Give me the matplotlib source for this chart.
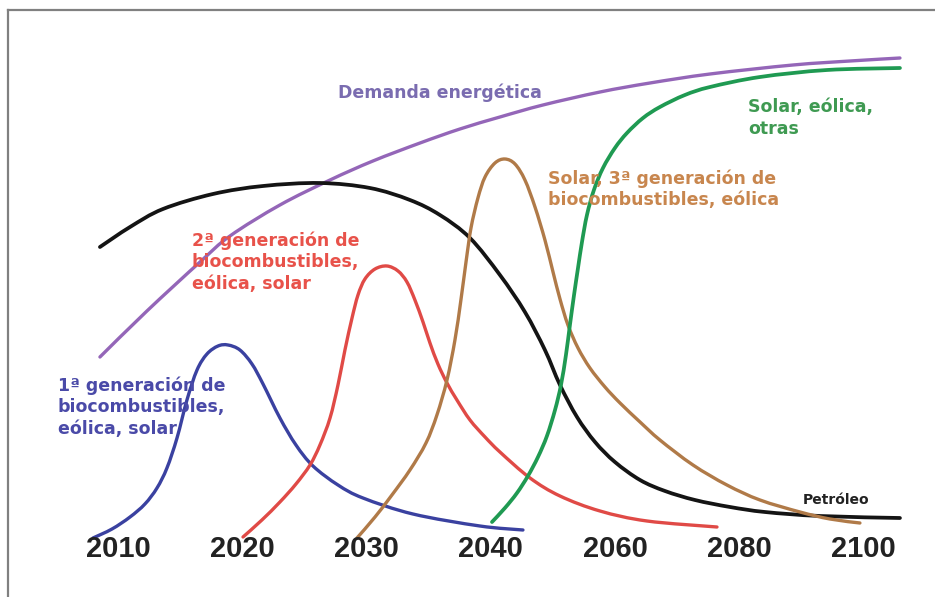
import numpy as np
import matplotlib.pyplot as plt
from matplotlib.lines import Line2D
from matplotlib.path import Path
from matplotlib.patches import PathPatch

# eje x: posiciones equiespaciadas (0 = 2010 ... 6 = 2100), eje y: cuota relativa 0-100
years = ["2010", "2020", "2030", "2040", "2060", "2080", "2100"]

demanda_x = [-0.145, 0.233, 0.660, 0.901, 1.303, 1.706, 2.051, 2.430, 2.751, 3.073, 3.419, 3.878,
             4.280, 4.763, 5.430, 5.889, 6.291]
demanda_y = [36.6, 45.8, 55.6, 60.8, 67.0, 72.0, 75.8, 79.4, 82.2, 84.6, 87.0, 89.6,
             91.4, 93.2, 95.0, 95.8, 96.4]

petroleo_x = [-0.145, 0.097, 0.362, 0.764, 1.167, 1.625, 2.027, 2.349, 2.590, 2.832, 3.073, 3.274,
              3.435, 3.556, 3.693, 3.838, 3.998, 4.200, 4.401, 4.642, 4.924, 5.205, 5.648, 6.291]
petroleo_y = [58.6, 62.6, 66.2, 69.2, 70.8, 71.4, 70.4, 68.0, 65.0, 60.4, 53.0, 45.6,
              38.0, 31.0, 24.6, 19.6, 15.6, 12.0, 9.8, 8.0, 6.6, 5.6, 4.8, 4.4]

gen1_x = [-0.201, -0.048, 0.097, 0.217, 0.314, 0.394, 0.475, 0.555, 0.636, 0.716, 0.805, 0.885,
          0.981, 1.078, 1.167, 1.303, 1.432, 1.569, 1.770, 1.971, 2.373, 2.912, 3.258]
gen1_y = [0.4, 2.2, 4.6, 7.2, 10.4, 14.4, 20.4, 28.0, 34.0, 37.2, 38.8, 39.0,
          38.0, 35.2, 31.2, 24.4, 19.0, 14.8, 11.0, 8.4, 5.2, 2.8, 2.0]

gen2_x = [1.006, 1.158, 1.303, 1.432, 1.545, 1.625, 1.706, 1.770, 1.826, 1.883, 1.931, 1.987, 2.068,
          2.164, 2.253, 2.325, 2.389, 2.454, 2.510, 2.574, 2.647, 2.727, 2.832, 2.953, 3.073, 3.315,
          3.556, 3.878, 4.256, 4.819]
gen2_y = [0.6, 4.0, 7.6, 11.2, 15.0, 19.0, 24.4, 31.0, 38.0, 44.4, 49.0, 52.2, 54.2,
          54.8, 53.8, 51.6, 48.0, 43.6, 39.4, 35.2, 31.4, 28.0, 24.0, 20.6, 17.6, 12.4,
          8.8, 5.8, 3.8, 2.6]

gen3_x = [1.923, 2.068, 2.204, 2.349, 2.478, 2.566, 2.647, 2.711, 2.759, 2.800, 2.840, 2.896, 2.953,
          3.033, 3.113, 3.194, 3.274, 3.355, 3.435, 3.500, 3.556, 3.620, 3.701, 3.797, 3.918, 4.039,
          4.200, 4.360, 4.626, 4.899, 5.165, 5.487, 5.728, 5.969]
gen3_y = [0.4, 4.6, 9.0, 14.0, 19.4, 25.0, 32.0, 40.0, 48.0, 55.6, 62.4, 68.4, 72.6,
          75.4, 76.2, 75.2, 72.0, 66.6, 60.0, 53.6, 48.2, 43.0, 38.4, 34.4, 30.6, 27.4,
          23.6, 20.0, 15.0, 11.0, 8.0, 5.6, 4.2, 3.4]

renov_x = [3.009, 3.113, 3.210, 3.298, 3.379, 3.451, 3.516, 3.564, 3.604, 3.636, 3.669, 3.701, 3.733,
           3.773, 3.829, 3.902, 3.998, 4.095, 4.224, 4.360, 4.561, 4.763, 5.165, 5.704, 6.291]
renov_y = [3.6, 6.4, 9.4, 12.8, 16.6, 20.8, 26.0, 31.0, 37.0, 43.0, 49.0, 54.4, 59.6,
           65.0, 70.0, 74.4, 78.4, 81.4, 84.4, 86.6, 89.0, 90.6, 92.6, 94.0, 94.4]

# (texto, x, y, color)
labels = [
    ("Demanda energética", 1.770, 89.4, "#7a6cb0"),
    ("Solar, eólica,\notras", 5.068, 84.4, "#3f9a52"),
    ("Solar, 3ª generación de\nbiocombustibles, eólica", 3.459, 70.2, "#c8864e"),
    ("2ª generación de\nbiocombustibles,\neólica, solar", 0.595, 55.6, "#e8524a"),
    ("1ª generación de\nbiocombustibles,\neólica, solar", -0.483, 26.6, "#4a4aa8"),
]


def smooth_curve(ax, xs, ys, color, lw):
    # curva suave (Catmull-Rom -> Bezier) que pasa por los puntos leidos
    pts = np.column_stack([xs, ys])
    verts = [pts[0]]
    codes = [Path.MOVETO]
    n = len(pts)
    for i in range(n - 1):
        p0 = pts[i - 1] if i > 0 else pts[i]
        p1 = pts[i]
        p2 = pts[i + 1]
        p3 = pts[i + 2] if i + 2 < n else pts[i + 1]
        verts += [p1 + (p2 - p0) / 6, p2 - (p3 - p1) / 6, p2]
        codes += [Path.CURVE4] * 3
    patch = PathPatch(Path(verts, codes), facecolor="none", edgecolor=color, lw=lw,
                      capstyle="round", joinstyle="round")
    ax.add_patch(patch)


fig = plt.figure(figsize=(9.35, 5.97), dpi=100)
ax = fig.add_axes([0, 0, 1, 1])
ax.set_xlim(-0.949, 6.573)
ax.set_ylim(-11.4, 108.0)
ax.axis("off")

lw = 2.4
smooth_curve(ax, demanda_x, demanda_y, "#9466b8", lw)
smooth_curve(ax, petroleo_x, petroleo_y, "#141414", lw + 0.3)
smooth_curve(ax, gen1_x, gen1_y, "#3a41a0", lw)
smooth_curve(ax, gen2_x, gen2_y, "#e04a46", lw)
smooth_curve(ax, gen3_x, gen3_y, "#b07a48", lw)
smooth_curve(ax, renov_x, renov_y, "#1f9a52", lw + 0.3)

for txt, x, y, c in labels:
    ax.text(x, y, txt, color=c, fontsize=12.5, fontweight="bold", family="DejaVu Sans",
            ha="left", va="center", linespacing=1.25)
ax.text(5.511, 8.0, "Petróleo", color="#222222", fontsize=10, fontweight="bold",
        family="DejaVu Sans", ha="left", va="center")

for i, yr in enumerate(years):
    ax.text(i, -1.8, yr, color="#222222", fontsize=21, fontweight="bold",
            family="Liberation Sans", ha="center", va="center")

# marco gris (solo izquierda y arriba)
fig.add_artist(Line2D([8 / 935, 8 / 935], [0, 1 - 10 / 597], color="#808080", lw=1.6))
fig.add_artist(Line2D([8 / 935, 1], [1 - 10 / 597, 1 - 10 / 597], color="#808080", lw=1.6))

plt.savefig("out.png", dpi=100)
